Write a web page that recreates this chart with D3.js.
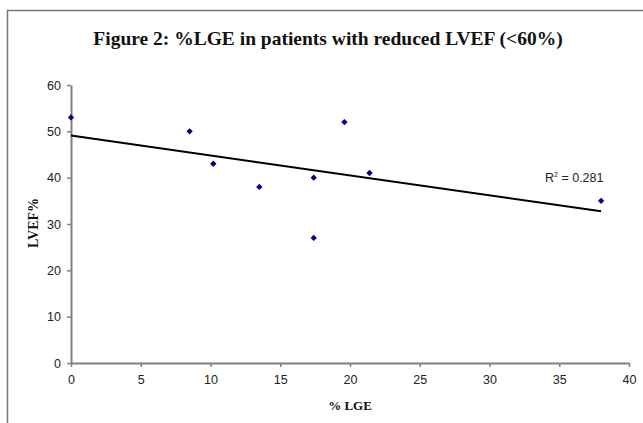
<!DOCTYPE html>
<html>
<head>
<meta charset="utf-8">
<script src="https://cdn.jsdelivr.net/npm/d3@7"></script>
<style>
body { margin: 0; background: #fff; }
svg { display: block; }
</style>
</head>
<body>
<svg width="643" height="423"></svg>
<script>
// data
var lge = [0, 8.5, 10.2, 13.5, 17.4, 17.4, 19.6, 21.4, 38];
var lvef = [53, 50, 43, 38, 40, 27, 52, 41, 35];
var xTicks = [0, 5, 10, 15, 20, 25, 30, 35, 40];
var yTicks = [0, 10, 20, 30, 40, 50, 60];

var margin = {top: 85, right: 14, bottom: 60, left: 71};
var width = 643 - margin.left - margin.right;   // 0..40 -> 71..629
var height = 423 - margin.top - margin.bottom;  // 60..0 -> 85..363

var svg = d3.select('svg');

// outer frame
svg.append('rect')
    .attr('x', 7.5).attr('y', 10.5)
    .attr('width', 700).attr('height', 500)
    .attr('fill', 'none')
    .attr('stroke', '#777')
    .attr('stroke-width', 1.5);

svg.append('text')
    .attr('x', 328).attr('y', 45)
    .attr('text-anchor', 'middle')
    .style('font-family', '"Liberation Serif", "Times New Roman", serif')
    .style('font-weight', 'bold')
    .style('font-size', '19.5px')
    .attr('fill', '#111')
    .text('Figure 2: %LGE in patients with reduced LVEF (<60%)');

var g = svg.append('g')
    .attr('transform', 'translate(' + margin.left + ',' + margin.top + ')');

var xScale = d3.scaleLinear().domain([0, 40]).range([0, width]);
var yScale = d3.scaleLinear().domain([0, 60]).range([height, 0]);

var xAxis = d3.axisBottom(xScale).tickValues(xTicks).tickSizeInner(4).tickSizeOuter(0).tickPadding(8);
var yAxis = d3.axisLeft(yScale).tickValues(yTicks).tickSizeInner(4).tickSizeOuter(0).tickPadding(6);

var xAxisGroup = g.append('g')
    .attr('transform', 'translate(0,' + height + ')')
    .call(xAxis);
var yAxisGroup = g.append('g').call(yAxis);

[xAxisGroup, yAxisGroup].forEach(function(ax) {
    ax.select('.domain').attr('stroke', '#808080').attr('stroke-width', 2);
    ax.selectAll('.tick line').attr('stroke', '#808080').attr('stroke-width', 1.5);
    ax.selectAll('.tick text')
        .attr('fill', '#222')
        .style('font-family', '"Liberation Sans", Arial, sans-serif')
        .style('font-size', '12.5px');
});

// axis titles
svg.append('text')
    .attr('x', 350).attr('y', 410)
    .attr('text-anchor', 'middle')
    .style('font-family', '"Liberation Serif", "Times New Roman", serif')
    .style('font-weight', 'bold')
    .style('font-size', '13px')
    .attr('fill', '#111')
    .text('% LGE');

svg.append('text')
    .attr('transform', 'translate(38,223) rotate(-90)')
    .attr('text-anchor', 'middle')
    .style('font-family', '"Liberation Serif", "Times New Roman", serif')
    .style('font-weight', 'bold')
    .style('font-size', '14px')
    .attr('fill', '#111')
    .text('LVEF%');

// linear trend line (least squares)
var mx = d3.mean(lge), my = d3.mean(lvef);
var sxy = d3.sum(lge, function(x, i) { return (x - mx) * (lvef[i] - my); });
var sxx = d3.sum(lge, function(x) { return (x - mx) * (x - mx); });
var syy = d3.sum(lvef, function(y) { return (y - my) * (y - my); });
var slope = sxy / sxx;
var intercept = my - slope * mx;
var r2 = sxy * sxy / (sxx * syy);
var xMin = d3.min(lge), xMax = d3.max(lge);

g.append('line')
    .attr('x1', xScale(xMin)).attr('y1', yScale(intercept + slope * xMin))
    .attr('x2', xScale(xMax)).attr('y2', yScale(intercept + slope * xMax))
    .attr('stroke', '#000')
    .attr('stroke-width', 2);

// points (square turned 45deg, like Excel's diamond marker)
var marker = d3.symbol().type(d3.symbolSquare).size(20);
g.selectAll('.pt')
    .data(lge)
    .enter()
    .append('path')
    .attr('class', 'pt')
    .attr('d', marker)
    .attr('transform', function(d, i) { return 'translate(' + xScale(d) + ',' + yScale(lvef[i]) + ') rotate(45)'; })
    .attr('fill', '#000080');

// R^2 label
var r2Text = svg.append('text')
    .attr('x', 545).attr('y', 182)
    .style('font-family', '"Liberation Sans", Arial, sans-serif')
    .style('font-size', '12.5px')
    .attr('fill', '#222');
r2Text.append('tspan').text('R');
r2Text.append('tspan').attr('dy', -5).style('font-size', '7px').text('2');
r2Text.append('tspan').attr('dy', 5).text(' = ' + r2.toFixed(3));
</script>
</body>
</html>
